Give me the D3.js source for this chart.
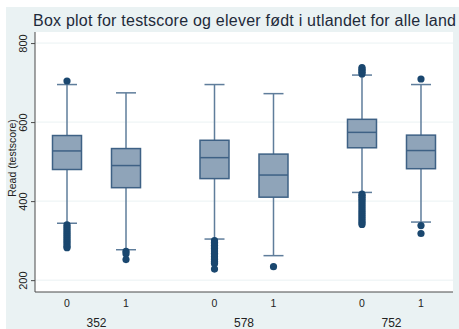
<!DOCTYPE html>
<html>
<head>
<meta charset="utf-8">
<script src="https://cdn.jsdelivr.net/npm/d3@7"></script>
<style>
    body { margin: 0; background: #ffffff; }
    svg { display: block; font-family: "Liberation Sans", Arial, sans-serif; }
</style>
</head>
<body>
<svg id="chart" width="459" height="329"></svg>
<script>
// countries (outer groups) and born abroad flag (inner groups)
const countries = ['352', '578', '752'];
const bornAbroad = ['0', '1'];
const yTicks = [200, 400, 600, 800];

// box stats per country / flag: [lowerWhisker, q1, median, q3, upperWhisker]
const stats352 = [[344, 480, 527, 566, 695], [277, 434, 490, 533, 674]];
const stats578 = [[304, 457, 510, 554, 695], [262, 410, 466, 519, 672]];
const stats752 = [[422, 535, 574, 607, 719], [347, 482, 528, 567, 695]];

// outliers
const out352 = [[704, 340, 335, 330, 325, 320, 315, 310, 305, 300, 295, 290, 285, 282],
                [273, 267, 252]];
const out578 = [[300, 296, 292, 288, 284, 280, 276, 272, 268, 264, 260, 256, 252, 248, 244, 242, 228],
                [234]];
const out752 = [[738, 734, 730, 726, 722, 418, 414, 410, 405, 400, 395, 390, 385, 380, 375, 370, 365, 360, 355, 350, 345, 341],
                [709, 338, 318]];

const statsByCountry = { '352': stats352, '578': stats578, '752': stats752 };
const outByCountry = { '352': out352, '578': out578, '752': out752 };

let boxes = [];
for (let c of countries)
    bornAbroad.forEach((b, i) => {
        let s = statsByCountry[c][i];
        boxes.push({ country: c, flag: b,
                     lo: s[0], q1: s[1], med: s[2], q3: s[3], hi: s[4],
                     outliers: outByCountry[c][i] });
    });

const W = 459, H = 329;
const plot = { x0: 35, x1: 453, y0: 32, y1: 292 };

const svg = d3.select('#chart');

// background
svg.append('rect').attr('x', 6).attr('y', 7).attr('width', W - 6).attr('height', H - 7)
    .attr('fill', '#eaf2f3');
svg.append('rect').attr('x', plot.x0).attr('y', plot.y0)
    .attr('width', plot.x1 - plot.x0).attr('height', plot.y1 - plot.y0)
    .attr('fill', '#ffffff');

const y = d3.scaleLinear().domain([170, 828]).range([plot.y1, plot.y0]);

const x = d3.scalePoint().domain(countries).range([plot.x0, plot.x1]).padding(0.417);
const step = x.step();
const xi = d3.scalePoint().domain(bornAbroad).range([-0.2 * step, 0.2 * step]);
const cx = (d) => x(d.country) + xi(d.flag);

// grid
svg.append('g').selectAll('line.grid')
    .data(yTicks)
    .enter()
    .append('line')
    .attr('class', 'grid')
    .attr('x1', plot.x0).attr('x2', plot.x1)
    .attr('y1', (d) => y(d)).attr('y2', (d) => y(d))
    .attr('stroke', '#eaf2f3')
    .attr('stroke-width', 1);

// y axis
const yAxis = svg.append('g')
    .attr('transform', 'translate(' + plot.x0 + ',0)')
    .call(d3.axisLeft(y).tickValues(yTicks).tickSize(4).tickSizeOuter(0));
yAxis.select('.domain').attr('stroke', '#4a4a4a');
yAxis.selectAll('.tick line').attr('stroke', '#4a4a4a');
yAxis.selectAll('.tick text')
    .attr('x', 0).attr('y', 0).attr('dy', 0)
    .attr('transform', 'translate(-8,0) rotate(-90)')
    .attr('text-anchor', 'middle')
    .attr('font-size', 11)
    .attr('font-family', '"Liberation Sans", Arial, sans-serif')
    .attr('fill', '#222');
yAxis.select('.domain').attr('d', 'M0,' + plot.y0 + 'V' + plot.y1);

// x axis line
svg.append('line')
    .attr('x1', plot.x0).attr('x2', plot.x1)
    .attr('y1', plot.y1).attr('y2', plot.y1)
    .attr('stroke', '#4a4a4a');

// boxes
const g = svg.append('g');
const capW = 20, boxW = 29;
const lineColor = '#5f7d9b';

g.selectAll('line.whisker')
    .data(boxes).enter().append('line')
    .attr('x1', cx).attr('x2', cx)
    .attr('y1', (d) => y(d.hi)).attr('y2', (d) => y(d.lo))
    .attr('stroke', lineColor).attr('stroke-width', 1.5);

for (let k of ['hi', 'lo'])
    g.selectAll('line.cap-' + k)
        .data(boxes).enter().append('line')
        .attr('x1', (d) => cx(d) - capW / 2).attr('x2', (d) => cx(d) + capW / 2)
        .attr('y1', (d) => y(d[k])).attr('y2', (d) => y(d[k]))
        .attr('stroke', lineColor).attr('stroke-width', 1.5);

g.selectAll('rect.box')
    .data(boxes).enter().append('rect')
    .attr('x', (d) => cx(d) - boxW / 2)
    .attr('width', boxW)
    .attr('y', (d) => y(d.q3))
    .attr('height', (d) => y(d.q1) - y(d.q3))
    .attr('fill', '#8fa4b9')
    .attr('stroke', '#3e6185')
    .attr('stroke-width', 1.5);

g.selectAll('line.median')
    .data(boxes).enter().append('line')
    .attr('x1', (d) => cx(d) - boxW / 2).attr('x2', (d) => cx(d) + boxW / 2)
    .attr('y1', (d) => y(d.med)).attr('y2', (d) => y(d.med))
    .attr('stroke', '#3e6185').attr('stroke-width', 1.5);

let points = [];
for (let b of boxes)
    for (let v of b.outliers)
        points.push({ country: b.country, flag: b.flag, v: v });

g.selectAll('circle.out')
    .data(points).enter().append('circle')
    .attr('cx', cx)
    .attr('cy', (d) => y(d.v))
    .attr('r', 3.6)
    .attr('fill', '#1a476f');

// x labels
svg.append('g').selectAll('text.flag')
    .data(boxes).enter().append('text')
    .attr('x', cx).attr('y', 307)
    .attr('text-anchor', 'middle')
    .attr('font-size', 10.5).attr('fill', '#222')
    .text((d) => d.flag);

svg.append('g').selectAll('text.country')
    .data(countries).enter().append('text')
    .attr('x', (d) => x(d)).attr('y', 326.5)
    .attr('text-anchor', 'middle')
    .attr('font-size', 12).attr('fill', '#222')
    .text((d) => d);

// y title
svg.append('text')
    .attr('transform', 'translate(16,158) rotate(-90)')
    .attr('text-anchor', 'middle')
    .attr('font-size', 10.5).attr('fill', '#222')
    .text('Read (testscore)');

// title
svg.append('text')
    .attr('x', 33).attr('y', 26)
    .attr('font-size', 16).attr('fill', '#1e2a3a')
    .attr('textLength', 423).attr('lengthAdjust', 'spacing')
    .text('Box plot for testscore og elever født i utlandet for alle land');
</script>
</body>
</html>
